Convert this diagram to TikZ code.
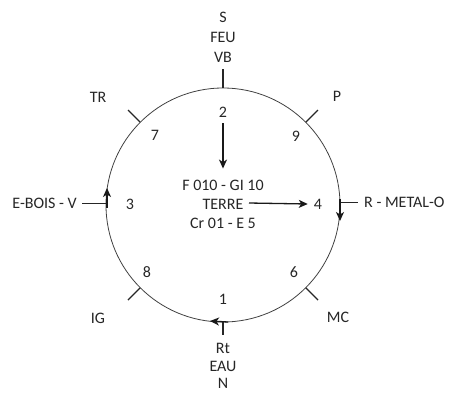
\documentclass[tikz,border=0pt]{standalone}
\usepackage{fontspec}
\setmainfont{Carlito}
\usetikzlibrary{arrows.meta,calc}
\begin{document}
\begin{tikzpicture}[x=1pt,y=-1pt,
 lbl/.style={font=\fontsize{16}{18}\selectfont, inner sep=0pt, text=black!85},
 tick/.style={line width=1.4pt, draw=black!85},
 conn/.style={line width=1pt, draw=black!85},
 arr/.style={-{Stealth[length=9pt,width=8pt,inset=2.5pt]}, line width=1.3pt, draw=black!90}]
\useasboundingbox (0,0) rectangle (450,392);
\coordinate (O) at (223,205);
\draw[line width=0.8pt, black!75] (O) circle[radius=117];
% top
\node[lbl] (s) at (223,17) {S};
\node[lbl] (feu) at (223,37) {FEU};
\node[lbl] (vb) at (223,57) {VB};
\coordinate (t1) at (223,69);
\coordinate (t2) at (223,88);
\draw[tick] (t1) -- (t2);
% bottom
\node[lbl] (rt) at (223,348) {Rt};
\node[lbl] (eau) at (223,366) {EAU};
\node[lbl] (n) at (223,383) {N};
\coordinate (b1) at (223,322);
\coordinate (b2) at (223,335);
\draw[tick] (b1) -- (b2);
\coordinate (ba1) at (228,322);
\coordinate (ba2) at (210,321);
\draw[arr] (ba1) -- (ba2);
% left
\node[lbl, anchor=east] (ebois) at (77,203) {E-BOIS - V};
\coordinate (l1) at (107,203);
\draw[conn] ($(ebois.east)+(5,0)$) -- (l1);
\coordinate (la1) at (107,208);
\coordinate (la2) at (107,188);
\draw[arr] (la1) -- (la2);
% right
\node[lbl, anchor=west] (rmetal) at (364,202) {R - METAL-O};
\coordinate (r1) at (340,202);
\draw[conn] (r1) -- ($(rmetal.west)+(-6,0)$);
\coordinate (ra1) at (340,199);
\coordinate (ra2) at (340,221);
\draw[arr] (ra1) -- (ra2);
% diagonal ticks
\coordinate (d1a) at (140,122); \coordinate (d1b) at (128,110);
\coordinate (d2a) at (306,122); \coordinate (d2b) at (318,110);
\coordinate (d3a) at (140,288); \coordinate (d3b) at (128,300);
\coordinate (d4a) at (306,288); \coordinate (d4b) at (318,300);
\draw[tick] (d1a) -- (d1b);
\draw[tick] (d2a) -- (d2b);
\draw[tick] (d3a) -- (d3b);
\draw[tick] (d4a) -- (d4b);
\node[lbl] (tr) at (98,97) {TR};
\node[lbl] (p) at (337,96) {P};
\node[lbl] (ig) at (98,318) {IG};
\node[lbl] (mc) at (338,317) {MC};
% numbers
\node[lbl] (n2) at (223,112) {2};
\node[lbl] (n7) at (155,135) {7};
\node[lbl] (n9) at (296,136) {9};
\node[lbl] (n3) at (130,204) {3};
\node[lbl] (n4) at (318,204) {4};
\node[lbl] (n8) at (147,272) {8};
\node[lbl] (n6) at (294,272) {6};
\node[lbl] (n1) at (223,299) {1};
% centre
\node[lbl] (c1) at (223,185) {F 010 - GI 10};
\node[lbl] (c2) at (223,204) {TERRE};
\node[lbl] (c3) at (223,223) {Cr 01 - E 5};
\draw[arr] ($(n2.south)+(0,6)$) -- ($(c1.north)+(0,-11)$);
\coordinate (ar1) at (249,203);
\draw[arr] (ar1) -- ($(n4.west)+(-6,0)$);
\end{tikzpicture}
\end{document}
